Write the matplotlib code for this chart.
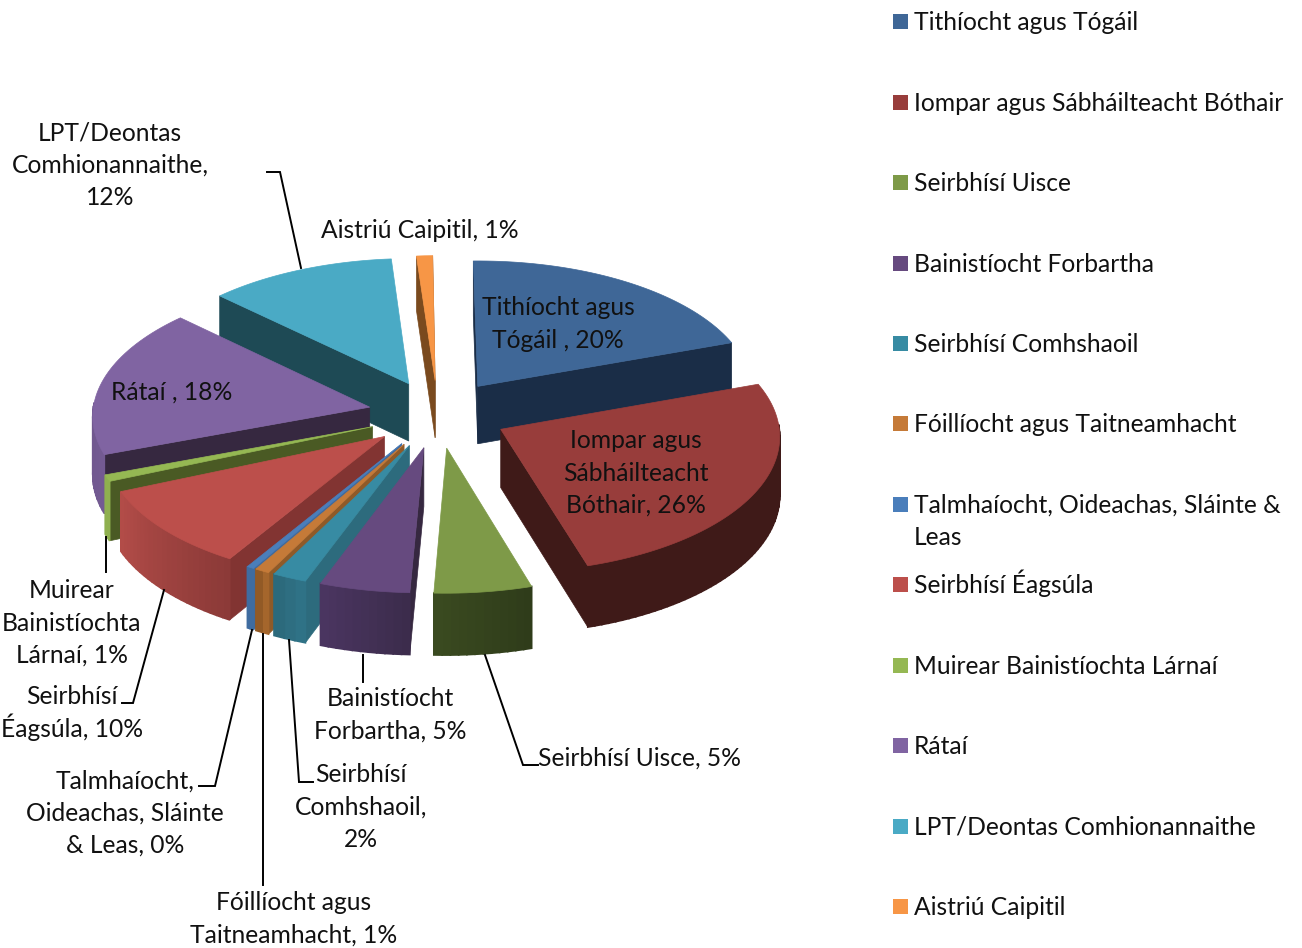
import numpy as np
import matplotlib
matplotlib.use("Agg")
import matplotlib.pyplot as plt

plt.rcParams["font.family"] = ["Lato", "DejaVu Sans"]

categories = ["Tithíocht agus Tógáil", "Iompar agus Sábháilteacht Bóthair", "Seirbhísí Uisce",
              "Bainistíocht Forbartha", "Seirbhísí Comhshaoil", "Fóillíocht agus Taitneamhacht",
              "Talmhaíocht, Oideachas, Sláinte &\nLeas", "Seirbhísí Éagsúla",
              "Muirear Bainistíochta Lárnaí", "Rátaí", "LPT/Deontas Comhionannaithe", "Aistriú Caipitil"]
values = [20, 26, 5.4, 5, 1.9, 0.8, 0.4, 10, 0.8, 18, 11.7, 1]

top_colors = ["#3f6797", "#983d3b", "#7e9a48", "#664a7f", "#378ba3", "#c57a38",
              "#4a7ebb", "#bc4f4b", "#95b853", "#8064a2", "#4aaac5", "#f79646"]
edge_colors = ["#1a2d47", "#3f1a18", "#38451f", "#362840", "#2d6b7d", "#8f5a28",
               "#3f6a9e", "#823432", "#4a5a24", "#362840", "#1e4a55", "#7a4a1e"]
wall_left = ["#1a2d47", "#3f1a18", "#3a4a20", "#4a3560", "#2c6a7c", "#925a26",
             "#3f6ca0", "#b24c48", "#8fb04f", "#6d5489", "#1e4a55", "#7a4a1e"]
wall_right = ["#1a2d47", "#3f1a18", "#2f3c1a", "#3c2c4c", "#2f7286", "#a5662c",
              "#3f6ca0", "#8c3a38", "#8fb04f", "#735a92", "#1e4a55", "#7a4a1e"]

legend_y = [21, 102, 182, 263, 343, 423, 504, 584, 665, 745, 826, 906]

# in-chart labels: text, x, y of the middle of the block
inner_labels = [("Tithíocht agus\nTógáil , 20%", 558, 323),
                ("Iompar agus\nSábháilteacht\nBóthair, 26%", 636, 472),
                ("Rátaí , 18%", 172, 391)]
outer_labels = [("LPT/Deontas\nComhionannaithe,\n12%", 110, 164),
                ("Aistriú Caipitil, 1%", 420, 229),
                ("Seirbhísí Uisce, 5%", 640, 757),
                ("Bainistíocht\nForbartha, 5%", 390, 714),
                ("Seirbhísí\nComhshaoil,\n2%", 361, 806),
                ("Fóillíocht agus\nTaitneamhacht, 1%", 294, 918),
                ("Talmhaíocht,\nOideachas, Sláinte\n& Leas, 0%", 125, 812),
                ("Seirbhísí\nÉagsúla, 10%", 72, 712),
                ("Muirear\nBainistíochta\nLárnaí, 1%", 72, 622)]
leaders = [([267, 280, 301], [172, 172, 268]),
           ([485, 523, 538], [655, 765, 765]),
           ([363, 363], [655, 682]),
           ([289, 299, 313], [640, 782, 782]),
           ([263, 263], [634, 885]),
           ([252, 215, 199], [630, 786, 786]),
           ([164, 133, 122], [590, 703, 703]),
           ([106, 106], [537, 572])]

CX, CY = 438, 414
R, K, EXPLODE, DEPTH, PERSP = 277, 0.485, 70, 58, 0.05
SKEW = 0.007
START = np.deg2rad(-1)
PITCH = 32.4
FS = 17.7


def project(u, v, z=0.0):
    s = 1 / (1 + PERSP * v / R)
    return CX + s * u + SKEW * v, CY - s * K * v + s * z * DEPTH


def blend(c1, c2, t):
    a = np.array(matplotlib.colors.to_rgb(c1))
    b = np.array(matplotlib.colors.to_rgb(c2))
    return a + (b - a) * t


def poly(ax, xs, ys, color, z, lw=0.5):
    ax.fill(xs, ys, color=color, lw=lw, zorder=z)


def put_lines(ax, text, x, y, ha):
    # one text per line, so accents on capitals don't disturb the spacing
    lines = text.split("\n")
    for n, line in enumerate(lines):
        yy = y + (n - (len(lines) - 1) / 2) * PITCH + 8.6
        ax.text(x, yy, line, ha=ha, va="baseline", fontsize=FS, color="#111111", zorder=40)


fig = plt.figure(figsize=(13.02, 9.48), dpi=100)
ax = fig.add_axes([0, 0, 1, 1])
ax.set_xlim(0, 1302)
ax.set_ylim(948, 0)
ax.axis("off")

shares = np.array(values) / sum(values) * 2 * np.pi
starts = START + np.concatenate([[0], np.cumsum(shares)[:-1]])
mids = starts + shares / 2
order = np.argsort(-np.cos(mids))

for rank, i in enumerate(order):
    t1, t2 = starts[i], starts[i] + shares[i]
    ou = EXPLODE * np.sin(mids[i])
    ov = EXPLODE * np.cos(mids[i])
    th = np.linspace(t1, t2, max(int(shares[i] * 40), 3))
    au = ou + R * np.sin(th)
    av = ov + R * np.cos(th)
    z = 2 + rank

    # radial walls
    for t, sign in ((t1, -1), (t2, 1)):
        nv = sign * -np.sin(t)
        if nv < 0.02:
            eu, ev = ou + R * np.sin(t), ov + R * np.cos(t)
            x0, y0 = project(ou, ov)
            x1, y1 = project(eu, ev)
            x2, y2 = project(eu, ev, 1)
            x3, y3 = project(ou, ov, 1)
            poly(ax, [x0, x1, x2, x3], [y0, y1, y2, y3], edge_colors[i], z)

    # rim, split up so the shade can change along it
    for j in range(len(th) - 1):
        if np.cos((th[j] + th[j + 1]) / 2) < 0.03:
            x0, y0 = project(au[j], av[j])
            x1, y1 = project(au[j + 1], av[j + 1])
            x2, y2 = project(au[j + 1], av[j + 1], 1)
            x3, y3 = project(au[j], av[j], 1)
            col = blend(wall_right[i], wall_left[i], j / max(len(th) - 2, 1))
            poly(ax, [x0, x1, x2, x3], [y0, y1, y2, y3], col, z, lw=1.2)

    # top face
    xs, ys = project(np.r_[ou, au], np.r_[ov, av])
    poly(ax, xs, ys, top_colors[i], z)

for lx, ly in leaders:
    ax.plot(lx, ly, color="black", lw=1.4, zorder=30, solid_joinstyle="miter")

for text, x, y in inner_labels + outer_labels:
    put_lines(ax, text, x, y, "center")

for name, y, col in zip(categories, legend_y, top_colors):
    ax.fill([893, 908, 908, 893], [y - 7, y - 7, y + 8, y + 8], color=col, lw=0)
    extra = PITCH * name.count("\n") / 2
    put_lines(ax, name, 914, y + extra, "left")

fig.savefig("out.png", dpi=100)
plt.close()
